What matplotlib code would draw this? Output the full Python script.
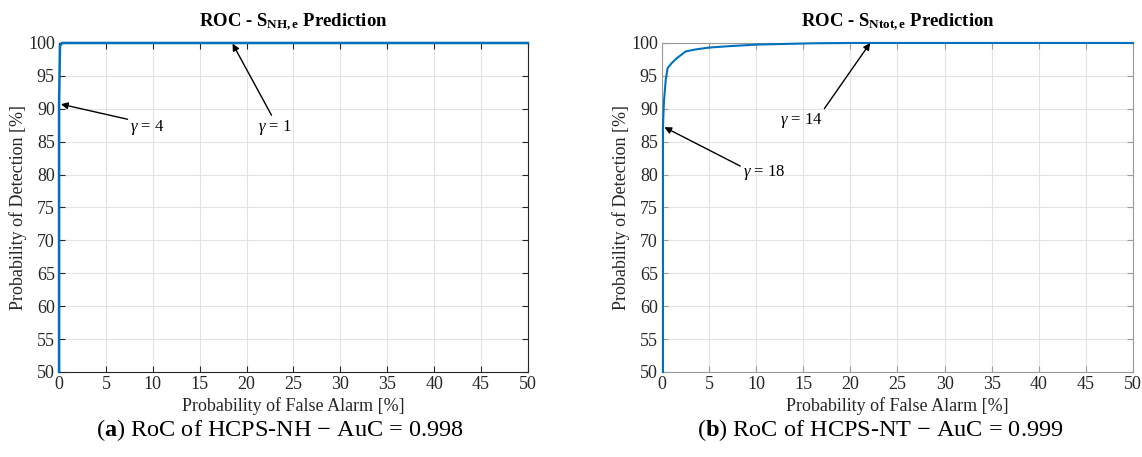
import matplotlib.pyplot as plt
import numpy as np

plt.rcParams['font.family'] = ['Liberation Serif', 'DejaVu Serif']
plt.rcParams['mathtext.fontset'] = 'custom'
plt.rcParams['mathtext.rm'] = 'Liberation Serif'
plt.rcParams['mathtext.it'] = 'Liberation Serif:italic'
plt.rcParams['mathtext.bf'] = 'Liberation Serif:bold'

# ROC curves (false alarm %, detection %)
nh_pfa = [0, 0, 0.1, 0.3, 50]
nh_pd = [50, 90.7, 99.5, 100, 100]

nt_pfa = [0.1, 0.1, 0.2, 0.4, 0.6, 1.0, 1.5, 2.5, 3.5, 5, 7, 10, 13, 16, 20, 50]
nt_pd = [50, 87.2, 91, 94.5, 96.2, 96.9, 97.6, 98.7, 99.0, 99.3, 99.5, 99.75,
         99.85, 99.95, 100, 100]

xticks = np.arange(0, 51, 5)
yticks = np.arange(50, 101, 5)

blue = '#0072BD'

fig = plt.figure(figsize=(11.42, 4.57), dpi=100)
ax1 = fig.add_axes([0.0517, 0.186, 0.4106, 0.720])
ax2 = fig.add_axes([0.5797, 0.186, 0.4124, 0.720])


def style(ax, spine_col):
    ax.set_xlim(0, 50)
    ax.set_ylim(50, 100)
    ax.set_xticks(xticks)
    ax.set_yticks(yticks)
    ax.grid(True, color='#e3e3e3', linewidth=0.8)
    ax.set_axisbelow(True)
    ax.tick_params(direction='in', top=True, right=True, length=4,
                   labelsize=13, pad=3)
    ax.tick_params(colors=spine_col, which='both', labelcolor='#262626')
    for s in ax.spines.values():
        s.set_color(spine_col)
        s.set_linewidth(0.8)
    ax.set_xlabel('Probability of False Alarm [%]', fontsize=13, color='#262626', labelpad=3)
    ax.set_ylabel('Probability of Detection [%]', fontsize=13, color='#262626', labelpad=1)


style(ax1, '#262626')
style(ax2, '#9a9a9a')

ax1.plot(nh_pfa, nh_pd, color=blue, linewidth=1.8, clip_on=False, zorder=5)
ax2.plot(nt_pfa, nt_pd, color=blue, linewidth=1.5, clip_on=False, zorder=5)

ax1.set_title(r'ROC - S$_{\mathbf{NH,e}}$ Prediction', fontsize=13.5, fontweight='bold', pad=12)
ax2.set_title(r'ROC - S$_{\mathbf{Ntot,e}}$ Prediction', fontsize=13.5, fontweight='bold', pad=12)

arrow = dict(arrowstyle='-|>', color='black', lw=1.0, mutation_scale=10, shrinkA=0, shrinkB=0)

ax1.annotate(r'$\gamma$ = 4', xy=(0.2, 90.7), xytext=(7.6, 88.6), fontsize=12,
             ha='left', va='top', arrowprops=dict(arrow, relpos=(0, 0.9)), zorder=6)
ax1.annotate(r'$\gamma$ = 1', xy=(18.5, 99.9), xytext=(21.2, 88.6), fontsize=12,
             ha='left', va='top', arrowprops=dict(arrow, relpos=(0.45, 1)), zorder=6)
ax2.annotate(r'$\gamma$ = 18', xy=(0.25, 87.2), xytext=(8.6, 81.8), fontsize=12,
             ha='left', va='top', arrowprops=dict(arrow, relpos=(0, 0.75)), zorder=6)
ax2.annotate(r'$\gamma$ = 14', xy=(22.1, 100), xytext=(12.5, 89.6), fontsize=12,
             ha='left', va='top', arrowprops=dict(arrow, relpos=(1, 1)), zorder=6)

fig.text(0.245, 0.058, r'($\mathbf{a}$) RoC of HCPS-NH $-$ AuC = 0.998', fontsize=17.5,
         ha='center', va='center')
fig.text(0.771, 0.058, r'($\mathbf{b}$) RoC of HCPS-NT $-$ AuC = 0.999', fontsize=17.5,
         ha='center', va='center')

fig.savefig('out.png', dpi=100)
